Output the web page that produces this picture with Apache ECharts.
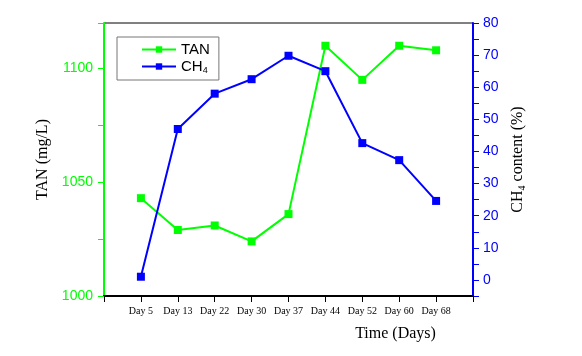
<!DOCTYPE html>
<html>
<head>
<meta charset="utf-8">
<script src="https://cdn.jsdelivr.net/npm/echarts@6/dist/echarts.min.js"></script>
<style>
html,body{margin:0;padding:0;background:#fff;}
#main{width:582px;height:356px;}
</style>
</head>
<body>
<div id="main"></div>
<script>
var days = ['', 'Day 5', 'Day 13', 'Day 22', 'Day 30', 'Day 37', 'Day 44', 'Day 52', 'Day 60', 'Day 68', ''];
var tan = [null, 1043, 1029, 1031, 1024, 1036, 1110, 1095, 1110, 1108, null];
var ch4 = [null, 1, 47, 58, 62.5, 69.8, 65, 42.6, 37.3, 24.6, null];

var myChart = echarts.init(document.getElementById('main'));

var option = {
    animation: false,
    grid: {
        left: 104, right: 109, top: 23, bottom: 60,
        show: true, borderColor: '#000', borderWidth: 1
    },
    legend: {
        left: 117, top: 37,
        orient: 'vertical',
        padding: [5, 9, 5, 24],
        itemGap: 2,
        itemWidth: 34, itemHeight: 8,
        borderColor: '#777', borderWidth: 1,
        data: ['TAN', 'CH4'],
        formatter: function (n) { return n === 'CH4' ? '{a|CH}{s|4}' : '{a|TAN}'; },
        textStyle: {
            rich: {
                a: {fontFamily: 'Arial', fontSize: 15, color: '#000'},
                s: {fontFamily: 'Arial', fontSize: 9, color: '#000', verticalAlign: 'bottom', padding: [8, 0, 0, 0]}
            }
        }
    },
    xAxis: {
        type: 'category',
        data: days,
        boundaryGap: false,
        name: 'Time (Days)',
        nameLocation: 'middle',
        nameGap: 30,
        nameTextStyle: {fontFamily: 'Liberation Serif', fontSize: 16, color: '#000', padding: [0, 0, 0, 214]},
        axisLine: {onZero: false, lineStyle: {color: '#000', width: 2}},
        axisTick: {inside: false, length: 6, lineStyle: {color: '#000'}, alignWithLabel: true},
        axisLabel: {fontFamily: 'Liberation Serif', fontSize: 10, color: '#000', margin: 10, interval: 0}
    },
    yAxis: [{
        type: 'value',
        min: 1000, max: 1120, interval: 25,
        name: 'TAN (mg/L)',
        nameLocation: 'middle',
        nameGap: 52,
        nameTextStyle: {fontFamily: 'Liberation Serif', fontSize: 16, color: '#000'},
        splitLine: {show: false},
        axisLine: {show: true, lineStyle: {color: '#00ff00', width: 2}},
        axisTick: {show: true, length: 6, lineStyle: {color: '#00ff00'}},
        axisLabel: {
            fontFamily: 'Arial', fontSize: 14, color: '#00ff00', margin: 11,
            formatter: function (v) { return v % 50 === 0 ? v : ''; }
        }
    }, {
        type: 'value',
        min: -5, max: 80, interval: 5,
        position: 'right',
        name: '{a|CH}{s|4}{a| content (%)}',
        nameLocation: 'middle',
        nameGap: 36,
        nameTextStyle: {
            rich: {
                a: {fontFamily: 'Liberation Serif', fontSize: 16, color: '#000'},
                s: {fontFamily: 'Liberation Serif', fontSize: 10, color: '#000', padding: [8, 0, 0, 0]}
            }
        },
        splitLine: {show: false},
        axisLine: {show: true, lineStyle: {color: '#0000ff', width: 2}},
        axisTick: {show: true, length: 6, lineStyle: {color: '#0000ff'}},
        axisLabel: {
            fontFamily: 'Arial', fontSize: 14, color: '#0000ff', margin: 10,
            formatter: function (v) { return v % 10 === 0 ? v : ''; }
        }
    }],
    series: [{
        name: 'TAN',
        type: 'line',
        yAxisIndex: 0,
        data: tan,
        symbol: 'rect', symbolSize: 8,
        itemStyle: {color: '#00ff00'},
        lineStyle: {color: '#00ff00', width: 2}
    }, {
        name: 'CH4',
        type: 'line',
        yAxisIndex: 1,
        data: ch4,
        symbol: 'rect', symbolSize: 8,
        itemStyle: {color: '#0000ff'},
        lineStyle: {color: '#0000ff', width: 2}
    }]
};

myChart.setOption(option);
window.onresize = function () {
    myChart.resize();
};
</script>
</body>
</html>
